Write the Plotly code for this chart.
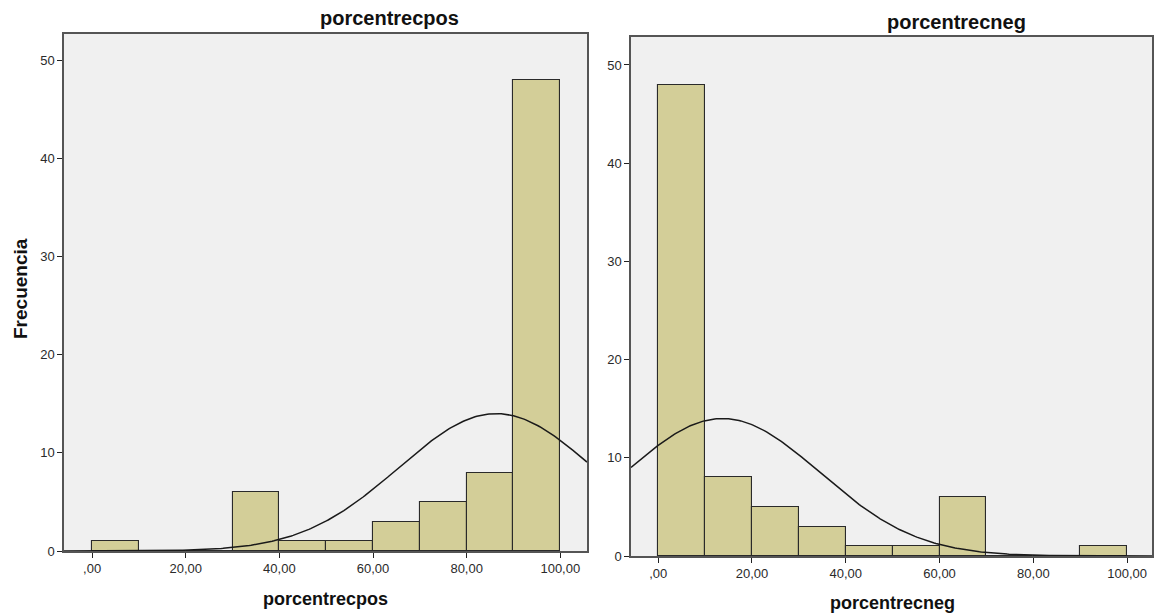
import numpy as np
import plotly.graph_objects as go

# Histogram bins (lower edge, width 10) and frequencies
bin_left = [0, 10, 20, 30, 40, 50, 60, 70, 80, 90]
freq_pos = [1, 0, 0, 6, 1, 1, 3, 5, 8, 48]
freq_neg = [48, 8, 5, 3, 1, 1, 6, 0, 0, 1]

# Normal-curve parameters for each variable
mean_pos, sd_pos = 86.3, 20.8
mean_neg, sd_neg = 13.7, 20.8

x_ticks = [0, 20, 40, 60, 80, 100]
x_tick_labels = [",00", "20,00", "40,00", "60,00", "80,00", "100,00"]
y_ticks = [0, 10, 20, 30, 40, 50]

BIN_W = 10
BAR_FILL = "#D3CE98"
BAR_LINE = "#2a2a2a"
FRAME = "#555555"
FONT = "Liberation Sans, Arial, sans-serif"
W, H = 1156, 614


def normal_curve(mean, sd, n, xr):
    xs = np.linspace(xr[0], xr[1], 300)
    ys = n * BIN_W / (sd * np.sqrt(2 * np.pi)) * np.exp(-0.5 * ((xs - mean) / sd) ** 2)
    return xs, ys


fig = go.Figure()

panels = [
    dict(freq=freq_pos, mean=mean_pos, sd=sd_pos, xa="x", ya="y",
         xr=[-6.0, 105.7], yr=[0, 52.7]),
    dict(freq=freq_neg, mean=mean_neg, sd=sd_neg, xa="x2", ya="y2",
         xr=[-5.8, 105.3], yr=[0, 52.85]),
]

for p in panels:
    centers = [b + BIN_W / 2 for b in bin_left]
    fig.add_trace(go.Bar(
        x=centers, y=p["freq"], width=BIN_W,
        marker=dict(color=BAR_FILL, line=dict(color=BAR_LINE, width=1.1)),
        xaxis=p["xa"], yaxis=p["ya"], showlegend=False, hoverinfo="x+y",
    ))
    n = sum(p["freq"])
    cx, cy = normal_curve(p["mean"], p["sd"], n, p["xr"])
    fig.add_trace(go.Scatter(
        x=cx, y=cy, mode="lines", line=dict(color="#1a1a1a", width=1.5),
        xaxis=p["xa"], yaxis=p["ya"], showlegend=False, hoverinfo="skip",
    ))

axis_common = dict(
    showline=True, linecolor=FRAME, linewidth=1.5, mirror=True,
    ticks="outside", ticklen=5, tickcolor="#222222", tickwidth=1.2,
    showgrid=False, zeroline=False, automargin=False,
    tickfont=dict(family=FONT, size=13, color="#2a2a2a"),
)

fig.update_layout(
    template="none",
    width=W, height=H,
    paper_bgcolor="white", plot_bgcolor="#F0F0F0",
    margin=dict(l=0, r=0, t=0, b=0, pad=0),
    bargap=0,
    font=dict(family=FONT),
    xaxis=dict(domain=[64 / W, 587 / W], range=panels[0]["xr"],
               tickvals=x_ticks, ticktext=x_tick_labels, anchor="y", **axis_common),
    yaxis=dict(domain=[1 - 551 / H, 1 - 34 / H], range=panels[0]["yr"],
               tickvals=y_ticks, anchor="x", **axis_common),
    xaxis2=dict(domain=[631 / W, 1152 / W], range=panels[1]["xr"],
                tickvals=x_ticks, ticktext=x_tick_labels, anchor="y2", **axis_common),
    yaxis2=dict(domain=[1 - 556 / H, 1 - 37 / H], range=panels[1]["yr"],
                tickvals=y_ticks, anchor="x2", **axis_common),
)

title_font = dict(family=FONT, size=20, color="#111111")
axis_title_font = dict(family=FONT, size=18, color="#111111")

annotations = [
    dict(text="<b>porcentrecpos</b>", x=389 / W, y=1 - 18 / H, font=title_font),
    dict(text="<b>porcentrecneg</b>", x=956 / W, y=1 - 22 / H, font=title_font),
    dict(text="<b>porcentrecpos</b>", x=325 / W, y=1 - 599 / H, font=axis_title_font),
    dict(text="<b>porcentrecneg</b>", x=892 / W, y=1 - 603 / H, font=axis_title_font),
    dict(text="<b>Frecuencia</b>", x=20 / W, y=1 - 289 / H,
         font=dict(family=FONT, size=19, color="#111111"), textangle=-90),
]
for a in annotations:
    fig.add_annotation(xref="paper", yref="paper", showarrow=False,
                       xanchor="center", yanchor="middle", **a)

fig.write_html("out.html")
